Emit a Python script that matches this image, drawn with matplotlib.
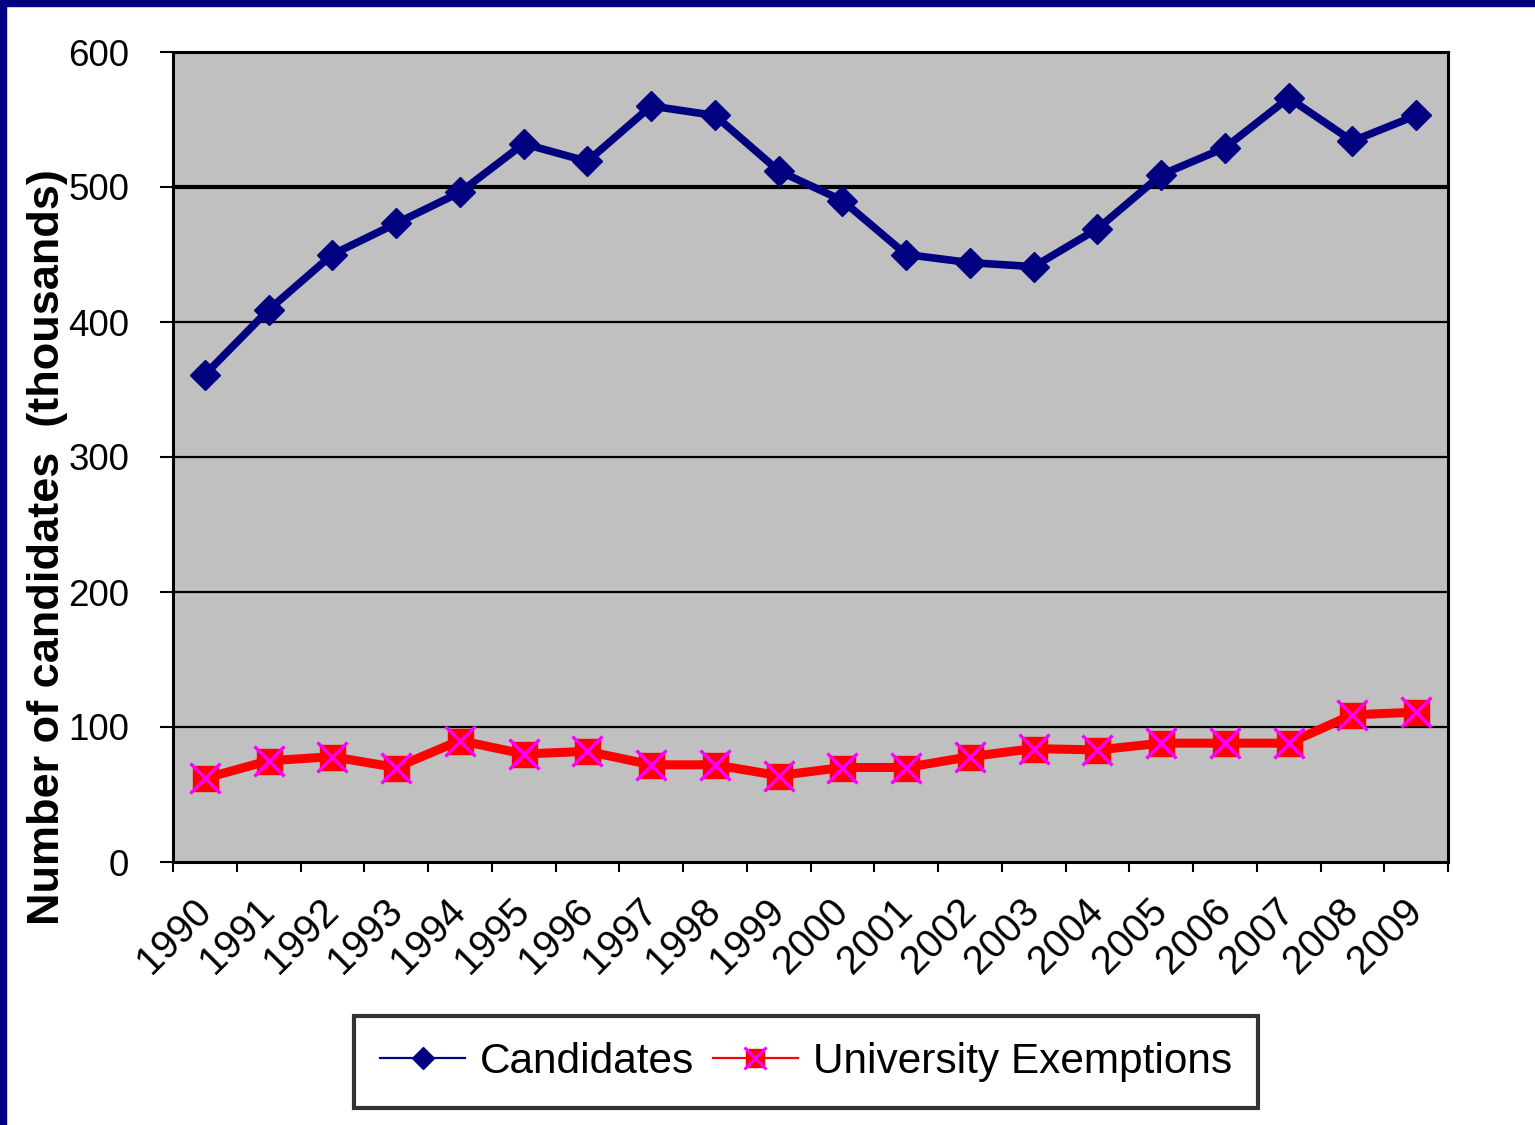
import matplotlib
matplotlib.use("Agg")
import matplotlib.pyplot as plt
from matplotlib.lines import Line2D
from matplotlib.patches import Rectangle
from matplotlib.ticker import FixedLocator

plt.rcParams["font.family"] = ["Liberation Sans", "DejaVu Sans"]

years = ["1990", "1991", "1992", "1993", "1994", "1995", "1996", "1997", "1998", "1999",
         "2000", "2001", "2002", "2003", "2004", "2005", "2006", "2007", "2008", "2009"]
candidates = [361, 409, 450, 473, 496, 532, 519, 560, 553, 512,
              490, 450, 444, 441, 469, 509, 529, 566, 534, 553]
exemptions = [62, 75, 78, 70, 90, 80, 82, 72, 72, 64,
              70, 70, 78, 84, 83, 88, 88, 88, 109, 111]
y_ticks = [0, 100, 200, 300, 400, 500, 600]

NAVY = "#000080"
RED = "#FF0000"
MAGENTA = "#FF00FF"

fig = plt.figure(figsize=(15.35, 11.25), dpi=100)
ax = fig.add_axes([173 / 1535, 1 - 862 / 1125, 1275 / 1535, 810 / 1125])
ax.set_facecolor("#C0C0C0")

x = list(range(len(years)))

# grid lines (the 500 line is drawn heavier)
for v in y_ticks[1:-1]:
    ax.axhline(v, color="black", lw=3.0 if v == 500 else 1.6, zorder=1)

ax.plot(x, candidates, color=NAVY, lw=5.5, marker="D", ms=15,
        mfc=NAVY, mec=NAVY, zorder=3)
ax.plot(x, exemptions, color=RED, lw=6.5, marker="s", ms=18,
        mfc=RED, mec=RED, zorder=3)
ax.plot(x, exemptions, ls="none", marker="x", ms=21, mew=2.4,
        color=MAGENTA, zorder=4)

ax.set_xlim(-0.5, len(years) - 0.5)
ax.set_ylim(0, 600)

ax.set_yticks(y_ticks)
ax.set_xticks(x)
ax.set_xticklabels(years, rotation=45, ha="right", va="center",
                   rotation_mode="anchor")
ax.xaxis.set_minor_locator(FixedLocator([i - 0.5 for i in range(len(years) + 1)]))

ax.tick_params(axis="y", direction="out", length=9.5, width=1.5,
               labelsize=26.5, pad=22)
ax.tick_params(axis="x", which="major", length=0, labelsize=28.5, pad=31)
ax.tick_params(axis="x", which="minor", direction="out", length=7.5, width=1.5)

for s in ax.spines.values():
    s.set_linewidth(2.2)
    s.set_color("black")

ax.set_ylabel("Number of candidates  (thousands)", fontsize=32.5,
              fontweight="bold", va="center")
ax.yaxis.set_label_coords(-0.0985, 0.389)

handles = [
    Line2D([], [], color=NAVY, lw=1.6, marker="D", ms=11, mfc=NAVY, mec=NAVY),
    (Line2D([], [], color=RED, lw=1.6, marker="s", ms=13, mfc=RED, mec=RED),
     Line2D([], [], ls="none", marker="x", ms=16, mew=2.2, color=MAGENTA)),
]
leg = fig.legend(handles, ["Candidates", "University Exemptions"],
                 loc="center", bbox_to_anchor=(806 / 1535, 1 - 1062 / 1125),
                 ncol=2, fontsize=30.5, frameon=True, fancybox=False,
                 handlelength=2.0, handletextpad=0.35, columnspacing=0.45,
                 borderpad=0.62, borderaxespad=0)
leg.get_frame().set_edgecolor("black")
leg.get_frame().set_linewidth(3)

# navy frame strips along the top and left edges
fig.patches.append(Rectangle((0, 1 - 6 / 1125), 1, 6 / 1125,
                             transform=fig.transFigure, color=NAVY, zorder=10))
fig.patches.append(Rectangle((0, 0), 6 / 1535, 1,
                             transform=fig.transFigure, color=NAVY, zorder=10))

fig.savefig("out.png", dpi=100)
